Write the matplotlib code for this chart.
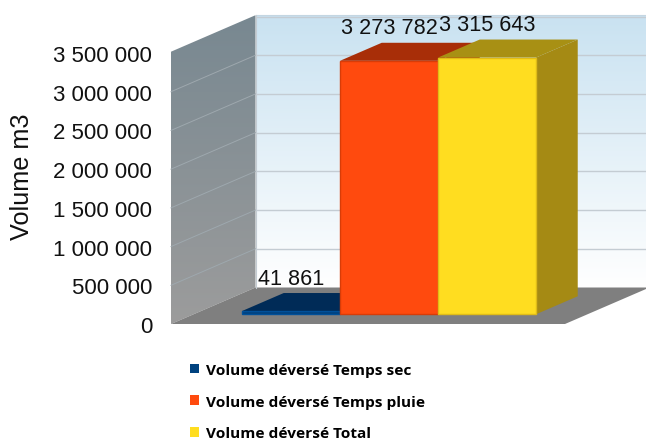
import numpy as np
import matplotlib
matplotlib.use("Agg")
import matplotlib.pyplot as plt
from matplotlib.patches import Polygon, Patch
from matplotlib.colors import LinearSegmentedColormap

series_names = ["Volume déversé Temps sec", "Volume déversé Temps pluie", "Volume déversé Total"]
values = [41861, 3273782, 3315643]
value_labels = ["41 861", "3 273 782", "3 315 643"]
yticks = [0, 500000, 1000000, 1500000, 2000000, 2500000, 3000000, 3500000]
ylabel = "Volume m3"

front_colors = ["#00427f", "#ff4a0e", "#ffdd20"]
top_colors = ["#002b57", "#a82e08", "#a89014"]
side_colors = ["#002b57", "#a82e08", "#a58a14"]
edge_colors = ["#00509a", "#d83c08", "#e0bc18"]

W, H = 646, 439
fig = plt.figure(figsize=(W / 100, H / 100), dpi=100)
ax_l, ax_r, ax_t, ax_b = 171, 646, 0, 325
ax = fig.add_axes([ax_l / W, 1 - ax_b / H, (ax_r - ax_l) / W, (ax_b - ax_t) / H])

px_cat = 98.0
ymax = 3500000
px_val = 271.0 / ymax
wall_dx = 84.5 / px_cat
wall_dy = 36.5 / px_val
xmin = -0.995
xmax = xmin + (ax_r - ax_l) / px_cat
floor_right = xmin + 394 / px_cat
wall_top = ymax + 1.3 / px_val


def pr(x, v, d):
    return (x + wall_dx * d, v + wall_dy * d)


def poly(pts, **kw):
    p = Polygon(pts, closed=True, clip_on=False, **kw)
    ax.add_patch(p)
    return p


def gradient(c_top, c_bottom, extent, clip=None, z=1):
    cm = LinearSegmentedColormap.from_list("g", [c_top, c_bottom])
    g = np.linspace(0, 1, 256).reshape(-1, 1)
    im = ax.imshow(g, cmap=cm, extent=extent, aspect="auto", origin="upper", zorder=z)
    if clip is not None:
        im.set_clip_path(clip)
    return im


# back wall
back_x0 = pr(xmin, 0, 1)[0]
back_x1 = xmax
gradient("#c9e2f1", "#ffffff", (back_x0, back_x1, wall_dy, wall_top + wall_dy))
# left wall
lw = Polygon([pr(xmin, 0, 0), pr(xmin, wall_top, 0), pr(xmin, wall_top, 1), pr(xmin, 0, 1)],
             closed=True, transform=ax.transData, fc="none", ec="none", clip_on=False)
ax.add_patch(lw)
gradient("#788891", "#9c9c9c", (xmin, back_x0, 0, wall_top + wall_dy), clip=lw)
ax.set_xlim(xmin, xmax)
ax.set_ylim(0, (ax_b - ax_t) / px_val)
# floor
poly([pr(xmin, 0, 0), pr(floor_right, 0, 0), pr(floor_right, 0, 1), pr(xmin, 0, 1)], fc="#7f7f7f", ec="none", zorder=2)

# gridlines
for t in yticks[1:]:
    if t < ymax:
        ax.plot([pr(xmin, t, 0)[0], pr(xmin, t, 1)[0]], [pr(xmin, t, 0)[1], pr(xmin, t, 1)[1]],
                color="#9ea8ae", lw=0.7, zorder=2, clip_on=False)
    ax.plot([back_x0, back_x1], [t + wall_dy, t + wall_dy], color="#c4ccd3", lw=1.0, zorder=2, clip_on=False)
ax.plot([back_x0, back_x1], [wall_top + wall_dy] * 2, color="#c4d6e2", lw=0.8, zorder=2, clip_on=False)
ax.plot([back_x0, back_x0], [wall_dy, wall_top + wall_dy], color="#c4ccd3", lw=0.8, zorder=2, clip_on=False)

# bars
d0, d1 = 0.266, 0.76
for i, v in enumerate(values):
    a, b = i - 0.5, i + 0.5
    z = 3 + i
    poly([pr(b, 0, d0), pr(b, 0, d1), pr(b, v, d1), pr(b, v, d0)], fc=side_colors[i], ec="none", zorder=z)
    poly([pr(a, v, d0), pr(b, v, d0), pr(b, v, d1), pr(a, v, d1)], fc=top_colors[i], ec="none", zorder=z)
    poly([pr(a, 0, d0), pr(b, 0, d0), pr(b, v, d0), pr(a, v, d0)], fc=front_colors[i], ec=edge_colors[i], lw=1.0, zorder=z + 0.5)
    ax.annotate(value_labels[i], xy=pr(i, v, d0), xytext=(0, 33 * 0.72), textcoords="offset points",
                ha="center", va="center", fontsize=15.6, family="Liberation Sans", color="#111111",
                zorder=10, annotation_clip=False)

# axis
ax.set_xticks([])
ax.set_yticks(yticks)
ax.set_yticklabels([f"{t:,}".replace(",", " ") for t in yticks], fontsize=16, family="Liberation Sans", color="#111111")
ax.tick_params(axis="y", length=0, pad=13.5)
for s in ax.spines.values():
    s.set_visible(False)
ax.patch.set_visible(False)
fig.text(22 / W, 1 - 177 / H, ylabel, rotation=90, ha="center", va="center", fontsize=18.2,
         family="Liberation Sans", color="#111111")

# legend
handles = [Patch(fc=c, ec="none") for c in front_colors]
leg = fig.legend(handles, series_names, loc="upper left", bbox_to_anchor=(190 / W, 1 - 364 / H),
                 frameon=False, borderpad=0, borderaxespad=0, handlelength=0.6, handleheight=0.6,
                 handletextpad=0.45, labelspacing=1.15,
                 prop={"family": "Open Sans", "weight": "bold", "size": 11.1})

fig.savefig("out.png", dpi=100)
